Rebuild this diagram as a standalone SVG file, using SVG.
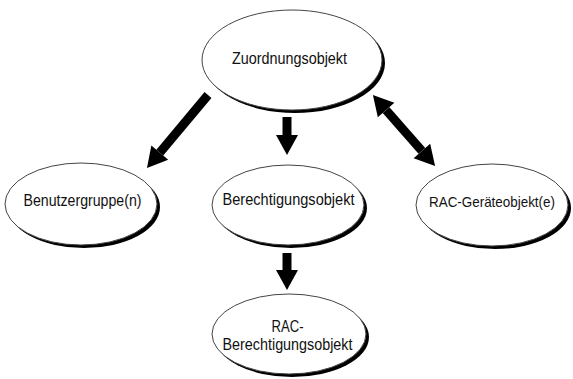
<svg xmlns="http://www.w3.org/2000/svg" width="573" height="379" viewBox="0 0 573 379">
<defs>
<style>
.sh{fill:#000}
.el{fill:#fff;stroke:#444;stroke-width:1}
.t{font-family:"Liberation Sans","Arial",sans-serif;font-size:17px;fill:#111;text-anchor:middle}
.ar{stroke:#000;stroke-width:9;fill:none}
</style>
<marker id="head" markerUnits="userSpaceOnUse" markerWidth="22" markerHeight="22" refX="0" refY="11" orient="auto-start-reverse" overflow="visible">
<path d="M0,0 L20,11 L0,22 Z" fill="#000"/>
</marker>
</defs>
<rect width="573" height="379" fill="#fff"/>
<g id="connectors">
<line class="ar" x1="208" y1="95" x2="159.8" y2="152.6" marker-end="url(#head)"/>
<line class="ar" x1="287" y1="117" x2="287" y2="135" marker-end="url(#head)"/>
<line class="ar" x1="386.1" y1="110.1" x2="421.9" y2="150.9" marker-start="url(#head)" marker-end="url(#head)"/>
<line class="ar" x1="287" y1="253" x2="287" y2="270" marker-end="url(#head)"/>
</g>
<g id="zuordnungsobjekt">
<ellipse class="sh" cx="295" cy="63" rx="90" ry="50"/>
<ellipse class="el" cx="292" cy="60" rx="90" ry="50"/>
<text class="t" x="289.5" y="64" textLength="115" lengthAdjust="spacingAndGlyphs">Zuordnungsobjekt</text>
</g>
<g id="benutzergruppe">
<ellipse class="sh" cx="84" cy="207" rx="76" ry="41"/>
<ellipse class="el" cx="81" cy="204" rx="76" ry="41"/>
<text class="t" x="82.5" y="206" textLength="118" lengthAdjust="spacingAndGlyphs">Benutzergruppe(n)</text>
</g>
<g id="berechtigungsobjekt">
<ellipse class="sh" cx="291" cy="208" rx="76" ry="40"/>
<ellipse class="el" cx="288" cy="205" rx="76" ry="40"/>
<text class="t" x="288.5" y="205" textLength="132" lengthAdjust="spacingAndGlyphs">Berechtigungsobjekt</text>
</g>
<g id="rac-geraeteobjekt">
<ellipse class="sh" cx="495" cy="208" rx="76" ry="41"/>
<ellipse class="el" cx="492" cy="205" rx="76" ry="41"/>
<text class="t" x="492" y="207" style="font-size:15px" textLength="126" lengthAdjust="spacingAndGlyphs">RAC-Geräteobjekt(e)</text>
</g>
<g id="rac-berechtigungsobjekt">
<ellipse class="sh" cx="292" cy="337" rx="77" ry="40"/>
<ellipse class="el" cx="289" cy="334" rx="77" ry="40"/>
<text class="t" x="287.5" y="332" textLength="32" lengthAdjust="spacingAndGlyphs">RAC-</text>
<text class="t" x="287.5" y="350" textLength="130" lengthAdjust="spacingAndGlyphs">Berechtigungsobjekt</text>
</g>
</svg>
